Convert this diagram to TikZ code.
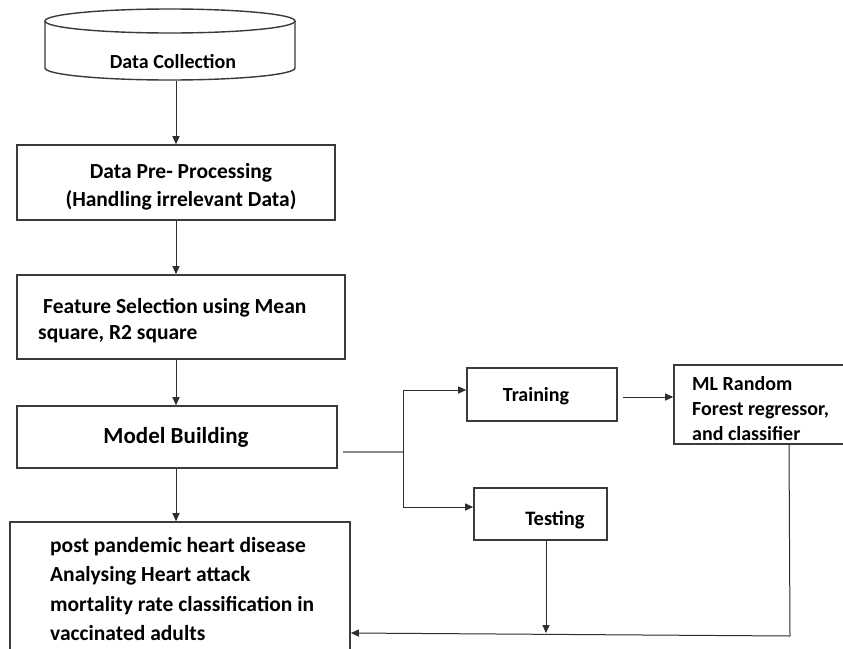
\documentclass[tikz,border=0pt]{standalone}
\usepackage{fontspec}
\setmainfont{Carlito}
\usetikzlibrary{arrows.meta}
\definecolor{bd}{HTML}{3A3A3A}
\definecolor{ln}{HTML}{2E2E2E}
\definecolor{lg}{HTML}{8A8A8A}
\begin{document}
\begin{tikzpicture}[x=1pt,y=-1pt,
  txt/.style={font=\bfseries\fontsize{21.5}{27}\selectfont, text=black, inner sep=0pt},
  box/.style={draw=bd, line width=1.6pt, fill=white, inner sep=0pt, anchor=center},
  arr/.style={draw=ln, line width=1pt, -{Triangle[length=8pt,width=7pt]}},
  plain/.style={draw=ln, line width=1pt}]
\useasboundingbox (0,0) rectangle (843,648);
\fill[white] (0,0) rectangle (843,648);

% cylinder
\draw[bd, line width=1.4pt, fill=white]
  (45,21) -- (45,68) arc[start angle=180, end angle=360, x radius=125, y radius=-12]
  -- (295,21);
\draw[bd, line width=1.4pt, fill=white] (170,21) ellipse[x radius=125, y radius=12];
\node[txt, font=\bfseries\fontsize{20}{24}\selectfont] (dc) at (173,62) {Data Collection};
\coordinate (dcb) at (176,81);

% boxes
\node[box, minimum width=318, minimum height=75] (pre) at (176,182.5) {};
\node[box, minimum width=328, minimum height=84] (fs) at (181,317) {};
\node[box, minimum width=320, minimum height=62] (mb) at (177,437) {};
\node[box, minimum width=340, minimum height=138] (fin) at (180,591) {};
\node[box, minimum width=150, minimum height=53] (tr) at (542,394.5) {};
\node[box, minimum width=133, minimum height=52] (te) at (540.5,514) {};
\node[box, minimum width=176, minimum height=79] (ml) at (762,404.5) {};

% texts
\node[txt, align=center, font=\bfseries\fontsize{21.5}{28}\selectfont] (pret) at (181,187)
  {Data Pre- Processing\\(Handling irrelevant Data)};
\node[txt, align=left, anchor=west, font=\bfseries\fontsize{21.5}{26}\selectfont] (fst) at (38,321)
  {\hspace*{5pt}Feature Selection using Mean\\square, R2 square};
\node[txt, font=\bfseries\fontsize{23}{27}\selectfont] (mbt) at (176,437) {Model Building};
\node[txt, align=left, anchor=west, font=\bfseries\fontsize{21.5}{29.5}\selectfont] (fint) at (50,589)
  {post pandemic heart disease\\Analysing Heart attack\\mortality rate classification in\\vaccinated adults};
\node[txt, font=\bfseries\fontsize{20}{24}\selectfont] (trt) at (536,396) {Training};
\node[txt, font=\bfseries\fontsize{20.5}{24}\selectfont] (tet) at (555,520) {Testing};
\node[txt, align=left, anchor=west, font=\bfseries\fontsize{20}{25}\selectfont] (mlt) at (692,409)
  {ML Random\\Forest regressor,\\and classifier};

% vertical flow
\draw[arr] (dcb) -- (dcb |- pre.north);
\draw[arr] (pre.south) -- (pre.south |- fs.north);
\draw[arr] (fs.south -| pre.south) -- (pre.south |- mb.north);
\draw[arr] (mb.south -| pre.south) -- (pre.south |- fin.north);

% split
\coordinate (ms) at (343,452);
\coordinate (j) at (403,452);
\coordinate (jt) at (403,390);
\coordinate (jb) at (403,507);
\draw[lg, line width=1.4pt] (ms) -- (j);
\draw[plain] (jt) -- (jb);
\draw[arr] (jt) -- (tr.west |- jt);
\draw[arr] (jb) -- (te.west |- jb);
\coordinate (ts) at (623,397);
\draw[arr] (ts) -- (ml.west |- ts);

% bottom
\coordinate (teb) at (546,540);
\coordinate (bl) at (546,633);
\coordinate (mlb) at (789,444);
\coordinate (mlc) at (790,636);
\draw[arr] (teb) -- (bl);
\draw[plain] (mlb) -- (mlc);
\draw[arr] (mlc) -- (fin.east |- bl);
\end{tikzpicture}
\end{document}
